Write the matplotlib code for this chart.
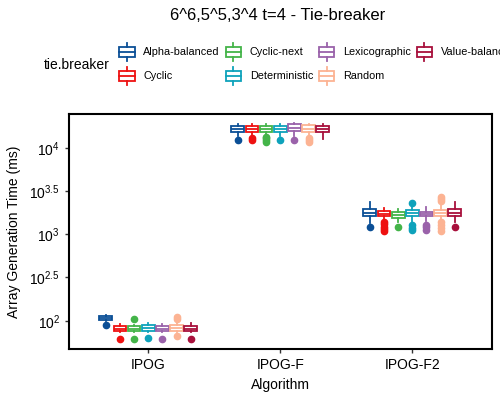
import matplotlib
matplotlib.use('Agg')
import matplotlib.pyplot as plt
from matplotlib.legend_handler import HandlerBase
from matplotlib.patches import Rectangle
from matplotlib.lines import Line2D

plt.rcParams['font.family'] = ['Liberation Sans', 'DejaVu Sans']
plt.rcParams['mathtext.fontset'] = 'custom'
plt.rcParams['mathtext.rm'] = 'Liberation Sans'
plt.rcParams['mathtext.it'] = 'Liberation Sans'

algorithms = ['IPOG', 'IPOG-F', 'IPOG-F2']
tie_breakers = ['Alpha-balanced', 'Cyclic', 'Cyclic-next', 'Deterministic',
                'Lexicographic', 'Random', 'Value-balanced']
colors = ['#0b4f96', '#ee1111', '#44b449', '#0ea2bb', '#9a62aa', '#fcb393', '#a8103c']

# box statistics, rows = algorithm, columns = tie-breaker (ms)
med = [[108, 81, 80, 83, 80, 82, 80],
       [16500, 16400, 16400, 16500, 16800, 16600, 16500],
       [1780, 1730, 1680, 1760, 1720, 1760, 1780]]
q1 = [[103, 76, 76, 77, 76, 76, 76],
      [15300, 15300, 15300, 15300, 15600, 15400, 15300],
      [1622, 1622, 1553, 1635, 1622, 1622, 1622]]
q3 = [[113, 86, 86, 89, 86, 89, 87],
      [17950, 17950, 17900, 17950, 18800, 18200, 17950],
      [1955, 1853, 1806, 1900, 1830, 1900, 1955]]
whis_lo = [[100, 74, 74, 75, 74, 74, 74],
           [13650, 13650, 13900, 13650, 13650, 13900, 12600],
           [1346, 1500, 1384, 1384, 1420, 1420, 1384]]
whis_hi = [[115, 92, 90, 94, 91, 97, 94],
           [18800, 18800, 18800, 18800, 19400, 19000, 18800],
           [2380, 2010, 1955, 2080, 2070, 2290, 2350]]
fliers = [[[89], [61], [105, 61], [63], [61], [110, 106, 66], [61]],
          [[12270], [12900, 12300], [13200, 12800, 12300, 11700], [12270], [12270],
           [13000, 12400, 11800], []],
          [[1222], [1390, 1300, 1220, 1140, 1080], [1222], [2270, 1270, 1190, 1120],
           [1270, 1200, 1130], [2690, 2560, 2420, 1380, 1280, 1180, 1090], [1222]]]


class BoxHandler(HandlerBase):
    def create_artists(self, legend, orig_handle, xdescent, ydescent,
                       width, height, fontsize, trans):
        c = orig_handle.get_color()
        w = width * 0.95
        x0 = -xdescent + (width - w) / 2
        h = height * 0.5
        y0 = -ydescent + (height - h) / 2
        xm = x0 + w / 2
        box = Rectangle((x0, y0), w, h, facecolor='white', edgecolor=c, lw=1.3, transform=trans)
        mid = Line2D([x0, x0 + w], [y0 + h / 2] * 2, color=c, lw=1.3, transform=trans)
        wt = Line2D([xm, xm], [y0 + h, -ydescent + height * 0.92], color=c, lw=1.3, transform=trans)
        wb = Line2D([xm, xm], [y0, -ydescent + height * 0.08], color=c, lw=1.3, transform=trans)
        return [box, mid, wt, wb]


fig = plt.figure(figsize=(5, 4), dpi=100)
ax = fig.add_axes([0.138, 0.1275, 0.845, 0.5875])

dodge = 0.75 / len(tie_breakers)
for j, tb in enumerate(tie_breakers):
    stats = []
    for i in range(len(algorithms)):
        stats.append(dict(med=med[i][j], q1=q1[i][j], q3=q3[i][j],
                          whislo=whis_lo[i][j], whishi=whis_hi[i][j],
                          fliers=fliers[i][j]))
    pos = [i + 1 + (j - 3) * dodge for i in range(len(algorithms))]
    c = colors[j]
    ax.bxp(stats, positions=pos, widths=dodge * 0.9, patch_artist=True,
           showcaps=False, manage_ticks=False,
           boxprops=dict(facecolor='white', edgecolor=c, lw=1.3),
           medianprops=dict(color=c, lw=1.3),
           whiskerprops=dict(color=c, lw=1.3),
           flierprops=dict(marker='o', markerfacecolor=c, markeredgecolor=c,
                           markersize=4.5, linestyle='none'))

ax.set_yscale('log')
ax.set_ylim(10 ** 1.673, 10 ** 4.39)
ax.set_xlim(0.4, 3.6)
ax.set_xticks([1, 2, 3])
ax.set_xticklabels(algorithms, fontsize=10)
yt = [2, 2.5, 3, 3.5, 4]
ax.set_yticks([10 ** v for v in yt])
ax.set_yticklabels([r'$10^{%g}$' % v for v in yt], fontsize=10)
ax.minorticks_off()
ax.tick_params(direction='out', length=3, width=1, colors='#333333', labelcolor='black')
for s in ax.spines.values():
    s.set_linewidth(1.5)
    s.set_color('black')
ax.set_xlabel('Algorithm', fontsize=10, labelpad=4)
ax.set_ylabel('Array Generation Time (ms)', fontsize=10, labelpad=6)

fig.text(0.555, 0.962, '6^6,5^5,3^4 t=4 - Tie-breaker', ha='center', va='center', fontsize=12)
fig.text(0.088, 0.838, 'tie.breaker', ha='left', va='center', fontsize=10)

handles = [Line2D([], [], color=c) for c in colors]
fig.legend(handles, tie_breakers, handler_map={Line2D: BoxHandler()},
           loc='upper left', bbox_to_anchor=(0.238, 0.896), ncol=4, frameon=False,
           fontsize=7.8, handlelength=1.5, handleheight=2.6, handletextpad=0.75,
           columnspacing=0.5, labelspacing=0.28, borderaxespad=0, borderpad=0)

fig.savefig('out.png', dpi=100)
